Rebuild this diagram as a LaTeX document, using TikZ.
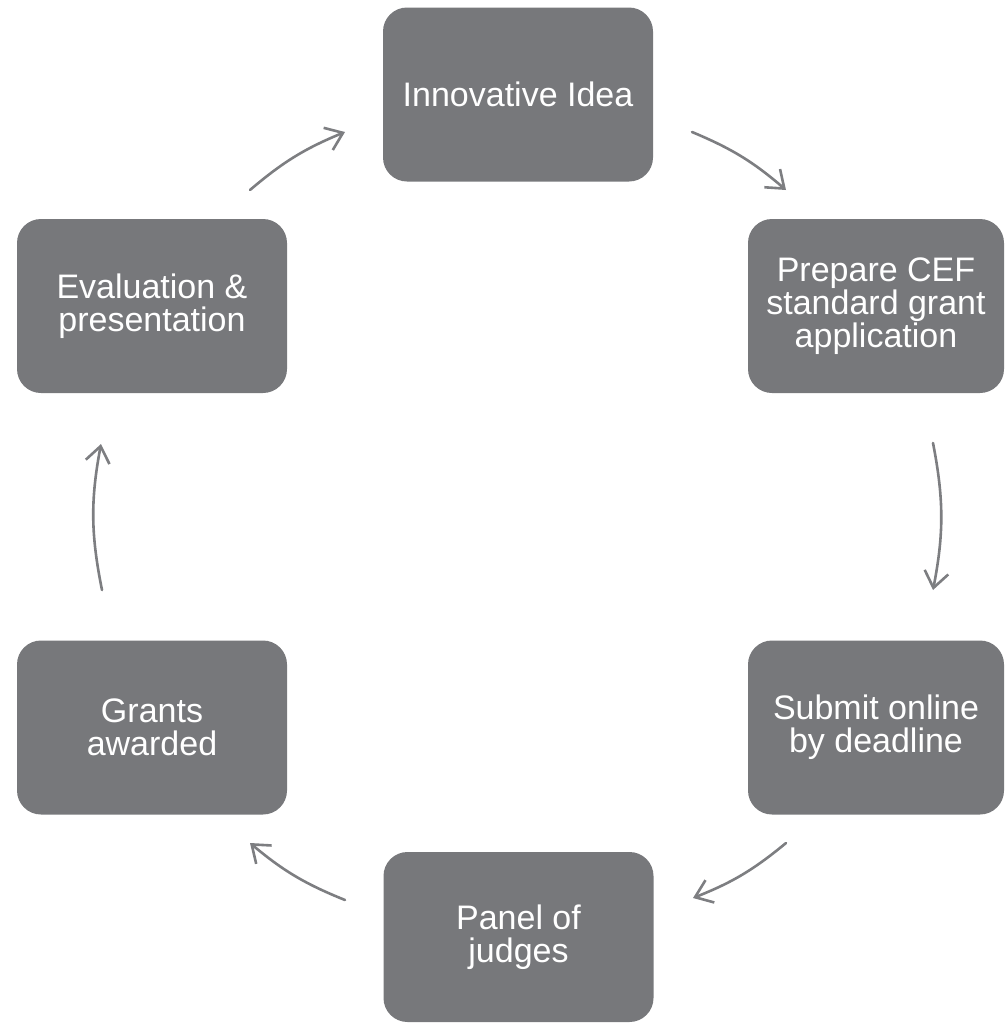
\documentclass[tikz,border=0pt]{standalone}
\usepackage{fontspec}
\setmainfont{Liberation Sans}
\usetikzlibrary{arrows.meta}
\definecolor{boxgray}{RGB}{119,120,123}
\definecolor{arrgray}{RGB}{125,126,129}
\begin{document}
\begin{tikzpicture}[x=0.5pt,y=0.5pt,
  stepbox/.style={fill=boxgray, draw=none, rounded corners=12pt, inner sep=0pt,
    minimum width=135pt, minimum height=87pt, text=white, align=center,
    font=\fontsize{17pt}{16.6pt}\selectfont},
  cyc/.style={draw=arrgray, line width=1.3pt, line cap=round,
    -{Straight Barb[length=8pt,width=12pt,line width=1.3pt]}, bend left=9}]
\useasboundingbox (0,0) rectangle (1005,-1023);
\node[stepbox] (A) at (518,-94.5) {\raisebox{-1pt}{Innovative Idea}};
\node[stepbox, minimum width=128pt] (B) at (876,-306) {Prepare CEF\\standard grant\\application};
\node[stepbox, minimum width=128pt] (C) at (876,-727.5) {Submit online\\by deadline};
\node[stepbox, minimum height=85pt] (D) at (518.5,-937) {Panel of\\judges};
\node[stepbox] (E) at (152,-727.5) {Grants\\awarded};
\node[stepbox] (F) at (152,-306) {Evaluation \&\\presentation};
\coordinate (fa1) at (250,-190); \coordinate (fa2) at (345,-132);
\coordinate (ab1) at (692,-132); \coordinate (ab2) at (786,-190);
\coordinate (bc1) at (933,-443); \coordinate (bc2) at (933,-590);
\coordinate (cd1) at (786,-843); \coordinate (cd2) at (693,-898);
\coordinate (de1) at (345,-900); \coordinate (de2) at (250,-843);
\coordinate (ef1) at (102,-590); \coordinate (ef2) at (101,-444);
\draw[cyc] (fa1) to (fa2);
\draw[cyc] (ab1) to (ab2);
\draw[cyc, bend left=11] (bc1) to (bc2);
\draw[cyc] (cd1) to (cd2);
\draw[cyc] (de1) to (de2);
\draw[cyc, bend left=11] (ef1) to (ef2);
\end{tikzpicture}
\end{document}
